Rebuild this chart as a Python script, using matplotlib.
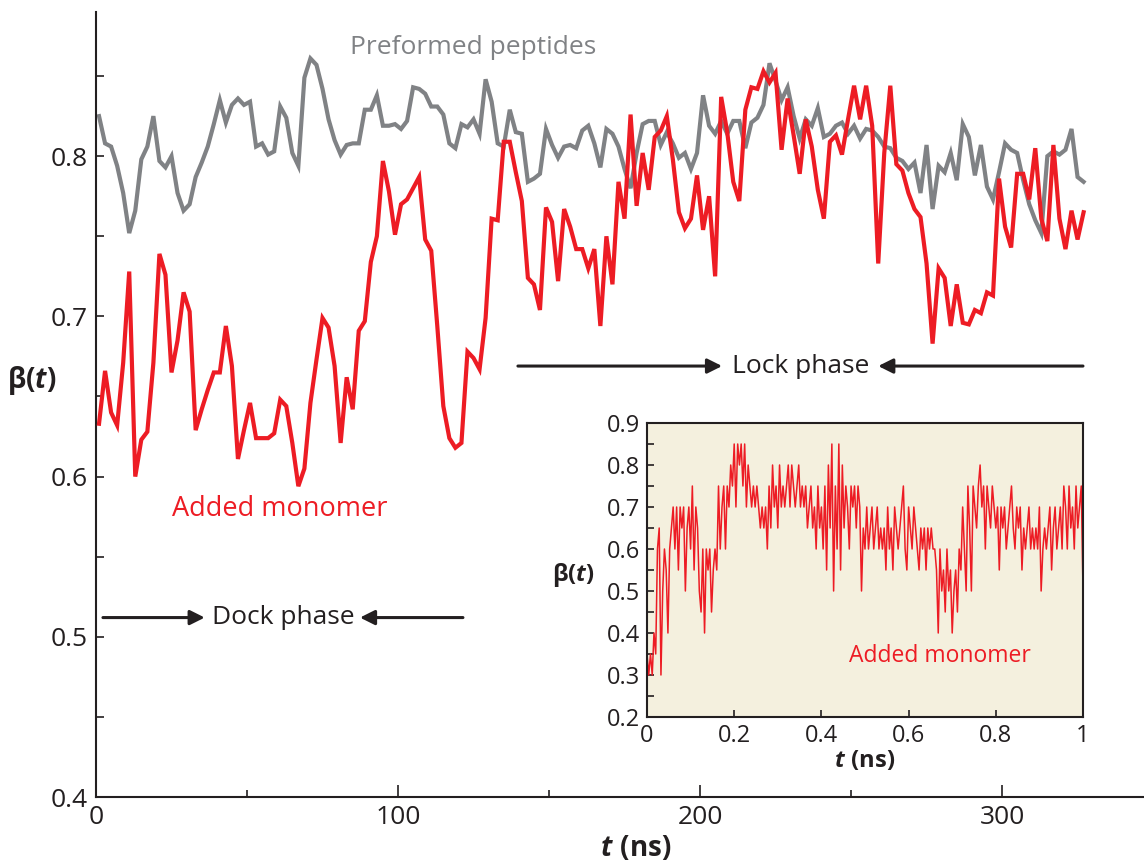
import numpy as np
import matplotlib
matplotlib.use("Agg")
import matplotlib.pyplot as plt
from matplotlib.ticker import MultipleLocator

## fonts: humanist sans for text, bold mathtext for the beta(t) labels
plt.rcParams['font.family'] = ['Open Sans', 'DejaVu Sans']
plt.rcParams['mathtext.fontset'] = 'custom'
plt.rcParams['mathtext.rm'] = 'Open Sans:bold'
plt.rcParams['mathtext.bf'] = 'Open Sans:bold'
plt.rcParams['mathtext.it'] = 'Open Sans:bold:italic'

### main panel data (t in ns, one frame every 2 ns)
t_main = np.arange(1, 328, 2)

preformed = [
    0.825, 0.808, 0.806, 0.794, 0.777, 0.752, 0.766, 0.798, 0.806, 0.825,
    0.797, 0.793, 0.800, 0.777, 0.766, 0.770, 0.787, 0.796, 0.806, 0.820,
    0.835, 0.821, 0.832, 0.836, 0.832, 0.834, 0.806, 0.808, 0.801, 0.803,
    0.831, 0.824, 0.802, 0.794, 0.849, 0.861, 0.857, 0.842, 0.823, 0.810,
    0.801, 0.807, 0.808, 0.808, 0.829, 0.829, 0.838, 0.819, 0.819, 0.820,
    0.817, 0.822, 0.843, 0.842, 0.839, 0.831, 0.831, 0.826,
    0.808, 0.805, 0.820, 0.818, 0.823, 0.814, 0.848, 0.834, 0.808, 0.806,
    0.829, 0.815, 0.814, 0.784, 0.786, 0.789, 0.817, 0.807, 0.799, 0.806,
    0.807, 0.805, 0.816, 0.819, 0.808, 0.793, 0.817, 0.814, 0.806, 0.792,
    0.780, 0.802, 0.820, 0.822, 0.822, 0.807, 0.815, 0.808, 0.799, 0.802,
    0.792, 0.802, 0.838, 0.819, 0.814, 0.822, 0.814, 0.822, 0.822, 0.805,
    0.821, 0.824, 0.832, 0.858, 0.847,
    0.835, 0.843, 0.825, 0.811, 0.823, 0.819, 0.830, 0.812, 0.814, 0.819,
    0.821, 0.814, 0.819, 0.811, 0.817, 0.816, 0.812, 0.806, 0.805, 0.799,
    0.797, 0.792, 0.796, 0.777, 0.807, 0.767, 0.794, 0.790, 0.802, 0.785,
    0.820, 0.812, 0.788, 0.807, 0.781, 0.773, 0.790, 0.808, 0.804, 0.802,
    0.785, 0.770, 0.760, 0.752, 0.800, 0.803, 0.801, 0.804, 0.817, 0.787,
    0.784,
]

added = [
    0.633, 0.666, 0.640, 0.632, 0.671, 0.728, 0.600, 0.623, 0.628, 0.671,
    0.739, 0.726, 0.665, 0.685, 0.715, 0.703, 0.629, 0.642, 0.654, 0.665,
    0.665, 0.694, 0.669, 0.611, 0.629, 0.646, 0.624, 0.624, 0.624, 0.627,
    0.648, 0.644, 0.621, 0.594, 0.605, 0.646, 0.673, 0.699, 0.693, 0.669,
    0.621, 0.662, 0.642, 0.691, 0.697, 0.734, 0.750, 0.797, 0.778, 0.751,
    0.770, 0.773, 0.780, 0.787, 0.748, 0.741, 0.694, 0.644, 0.624, 0.618,
    0.621, 0.678, 0.674, 0.667, 0.699,
    0.761, 0.760, 0.809, 0.809, 0.790, 0.772, 0.724, 0.720, 0.704, 0.768,
    0.759, 0.722, 0.767, 0.756, 0.742, 0.742, 0.730, 0.742, 0.694, 0.750,
    0.720, 0.784, 0.761, 0.826, 0.769, 0.802, 0.779, 0.812, 0.816, 0.825,
    0.798, 0.765, 0.755, 0.761, 0.788, 0.754, 0.775, 0.725, 0.837, 0.815,
    0.784, 0.772, 0.829, 0.843, 0.842, 0.853, 0.846, 0.852, 0.804, 0.836,
    0.813, 0.789, 0.823, 0.806, 0.779, 0.761, 0.809, 0.813, 0.801, 0.823,
    0.844, 0.823, 0.844, 0.819, 0.733, 0.802, 0.844, 0.795, 0.791, 0.777,
    0.767, 0.762, 0.733, 0.683, 0.730, 0.724, 0.694, 0.720, 0.696, 0.695,
    0.704, 0.702, 0.715, 0.713, 0.786, 0.756, 0.743, 0.789, 0.789, 0.773,
    0.805, 0.761, 0.747, 0.807, 0.761, 0.742, 0.766, 0.748, 0.765,
]

### inset data: first 1 ns of the added monomer (levels are multiples of 0.05)
inset_beta = [
    0.35, 0.30, 0.35, 0.30, 0.40, 0.35, 0.60, 0.65, 0.30, 0.50,
    0.60, 0.55, 0.40, 0.60, 0.65, 0.70, 0.60, 0.70, 0.55, 0.70,
    0.65, 0.70, 0.50, 0.65, 0.70, 0.60, 0.75, 0.55, 0.70, 0.65,
    0.50, 0.45, 0.60, 0.40, 0.60, 0.55, 0.60, 0.45, 0.55, 0.60,
    0.55, 0.75, 0.60, 0.70, 0.75, 0.60, 0.75, 0.70, 0.80, 0.75,
    0.85, 0.70, 0.85, 0.80, 0.85, 0.75, 0.85, 0.70, 0.80, 0.75,
    0.70, 0.75, 0.70, 0.75, 0.70, 0.65, 0.70, 0.65, 0.70, 0.60,
    0.75, 0.65, 0.80, 0.70, 0.75, 0.65, 0.80, 0.70, 0.75, 0.70,
    0.75, 0.80, 0.70, 0.80, 0.75, 0.70, 0.75, 0.80, 0.70, 0.75,
    0.70, 0.75, 0.65, 0.70, 0.75, 0.65, 0.70, 0.60, 0.75, 0.65,
    0.70, 0.60, 0.75, 0.55, 0.80, 0.65, 0.85, 0.50, 0.75, 0.60,
    0.85, 0.55, 0.80, 0.65, 0.75, 0.70, 0.60, 0.75, 0.70, 0.75,
    0.65, 0.75, 0.70, 0.50, 0.65, 0.60, 0.70, 0.60, 0.65, 0.70,
    0.60, 0.65, 0.70, 0.60, 0.65, 0.60, 0.65, 0.55, 0.70, 0.60,
    0.65, 0.55, 0.70, 0.65, 0.60, 0.65, 0.70, 0.75, 0.60, 0.55,
    0.70, 0.65, 0.60, 0.70, 0.65, 0.60, 0.55, 0.65, 0.60, 0.65,
    0.55, 0.65, 0.60, 0.65, 0.60, 0.60, 0.55, 0.40, 0.60, 0.50,
    0.55, 0.45, 0.60, 0.50, 0.55, 0.40, 0.50, 0.55, 0.45, 0.60,
    0.55, 0.70, 0.60, 0.50, 0.75, 0.65, 0.50, 0.75, 0.70, 0.65,
    0.75, 0.80, 0.70, 0.75, 0.60, 0.75, 0.70, 0.65, 0.75, 0.70,
    0.65, 0.70, 0.55, 0.70, 0.65, 0.70, 0.60, 0.65, 0.70, 0.75,
    0.65, 0.60, 0.70, 0.65, 0.70, 0.55, 0.65, 0.60, 0.65, 0.70,
    0.60, 0.65, 0.60, 0.65, 0.60, 0.70, 0.50, 0.60, 0.65, 0.60,
    0.65, 0.70, 0.55, 0.65, 0.70, 0.60, 0.65, 0.70, 0.60, 0.75,
    0.70, 0.60, 0.75, 0.65, 0.70, 0.60, 0.75, 0.65, 0.70, 0.75, 0.50,
]
t_inset = np.linspace(0, 1, len(inset_beta))

grey = '#808285'
red = '#ED1C24'
ink = '#231F20'

fig = plt.figure(figsize=(11.44, 8.63), dpi=100)
W, H = 1144.0, 863.0

## main axes (right edge runs off the picture like the original)
ax = fig.add_axes([96 / W, 66 / H, (W - 96) / W, 785 / H])
ax.plot(t_main, preformed, color=grey, lw=3.0, zorder=2, solid_joinstyle='miter')
ax.plot(t_main, added, color=red, lw=3.0, zorder=3, solid_joinstyle='miter')

ax.set_xlim(0, 347)
ax.set_ylim(0.4, 0.89)
for s in ['top', 'right']:
    ax.spines[s].set_visible(False)
for s in ['left', 'bottom']:
    ax.spines[s].set_linewidth(1.5)
    ax.spines[s].set_color(ink)

ax.xaxis.set_major_locator(MultipleLocator(100))
ax.xaxis.set_minor_locator(MultipleLocator(50))
ax.yaxis.set_major_locator(MultipleLocator(0.1))
ax.yaxis.set_minor_locator(MultipleLocator(0.05))
ax.tick_params(axis='both', which='both', direction='in', colors=ink, width=1.2)
ax.tick_params(axis='x', which='major', length=9, labelsize=19, pad=6)
ax.tick_params(axis='x', which='minor', length=5)
ax.tick_params(axis='y', which='both', length=6, labelsize=19, pad=6)
ax.set_yticks([0.4, 0.5, 0.6, 0.7, 0.8])
ax.set_xticks([0, 100, 200, 300])
ax.set_yticklabels(['0.4', '0.5', '0.6', '0.7', '0.8'])

ax.text(0.515, -0.065, r'$t\ \mathrm{(ns)}$', transform=ax.transAxes,
        ha='center', va='center', fontsize=20, color=ink)
ax.text(-0.061, 0.531, r'$\mathrm{β(}t\mathrm{)}$', transform=ax.transAxes,
        ha='center', va='center', fontsize=20, color=ink)

ax.text(125, 0.868, 'Preformed peptides', color=grey, fontsize=19, ha='center', va='center')
ax.text(61, 0.58, 'Added monomer', color=red, fontsize=19.5, ha='center', va='center')

## phase arrows
arrow = dict(arrowstyle='-|>', lw=2.2, color=ink, mutation_scale=22, shrinkA=0, shrinkB=0)
ax.text(62, 0.512, 'Dock phase', fontsize=19, ha='center', va='center', color=ink)
ax.annotate('', xy=(36, 0.512), xytext=(2.3, 0.512), arrowprops=arrow)
ax.annotate('', xy=(87.4, 0.512), xytext=(121.5, 0.512), arrowprops=arrow)
ax.text(233.4, 0.669, 'Lock phase', fontsize=19, ha='center', va='center', color=ink)
ax.annotate('', xy=(207.3, 0.669), xytext=(139.7, 0.669), arrowprops=arrow)
ax.annotate('', xy=(259, 0.669), xytext=(326.8, 0.669), arrowprops=arrow)

## inset
ins = fig.add_axes([647 / W, (H - 717) / H, 436 / W, 294 / H])
ins.set_facecolor('#F4F0DE')
ins.plot(t_inset, inset_beta, color=red, lw=1.1)
ins.set_xlim(0, 1)
ins.set_ylim(0.2, 0.9)
ins.xaxis.set_major_locator(MultipleLocator(0.2))
ins.yaxis.set_major_locator(MultipleLocator(0.1))
ins.yaxis.set_minor_locator(MultipleLocator(0.05))
ins.tick_params(axis='both', which='both', direction='in', colors=ink, width=1.2,
                labelsize=17, length=5, pad=5)
ins.set_xticks([0, 0.2, 0.4, 0.6, 0.8, 1.0])
ins.set_xticklabels(['0', '0.2', '0.4', '0.6', '0.8', '1'])
ins.set_yticks([0.2, 0.3, 0.4, 0.5, 0.6, 0.7, 0.8, 0.9])
ins.set_yticklabels(['0.2', '0.3', '0.4', '0.5', '0.6', '0.7', '0.8', '0.9'])
for s in ins.spines.values():
    s.set_linewidth(1.5)
    s.set_color(ink)
ins.text(0.5, -0.15, r'$t\ \mathrm{(ns)}$', transform=ins.transAxes,
         ha='center', va='center', fontsize=17, color=ink)
ins.text(-0.17, 0.483, r'$\mathrm{β(}t\mathrm{)}$', transform=ins.transAxes,
         ha='center', va='center', fontsize=17, color=ink)
ins.text(0.672, 0.207, 'Added monomer', color=red, fontsize=16.5,
         ha='center', va='center', transform=ins.transAxes)

fig.savefig('out.png', dpi=100)
